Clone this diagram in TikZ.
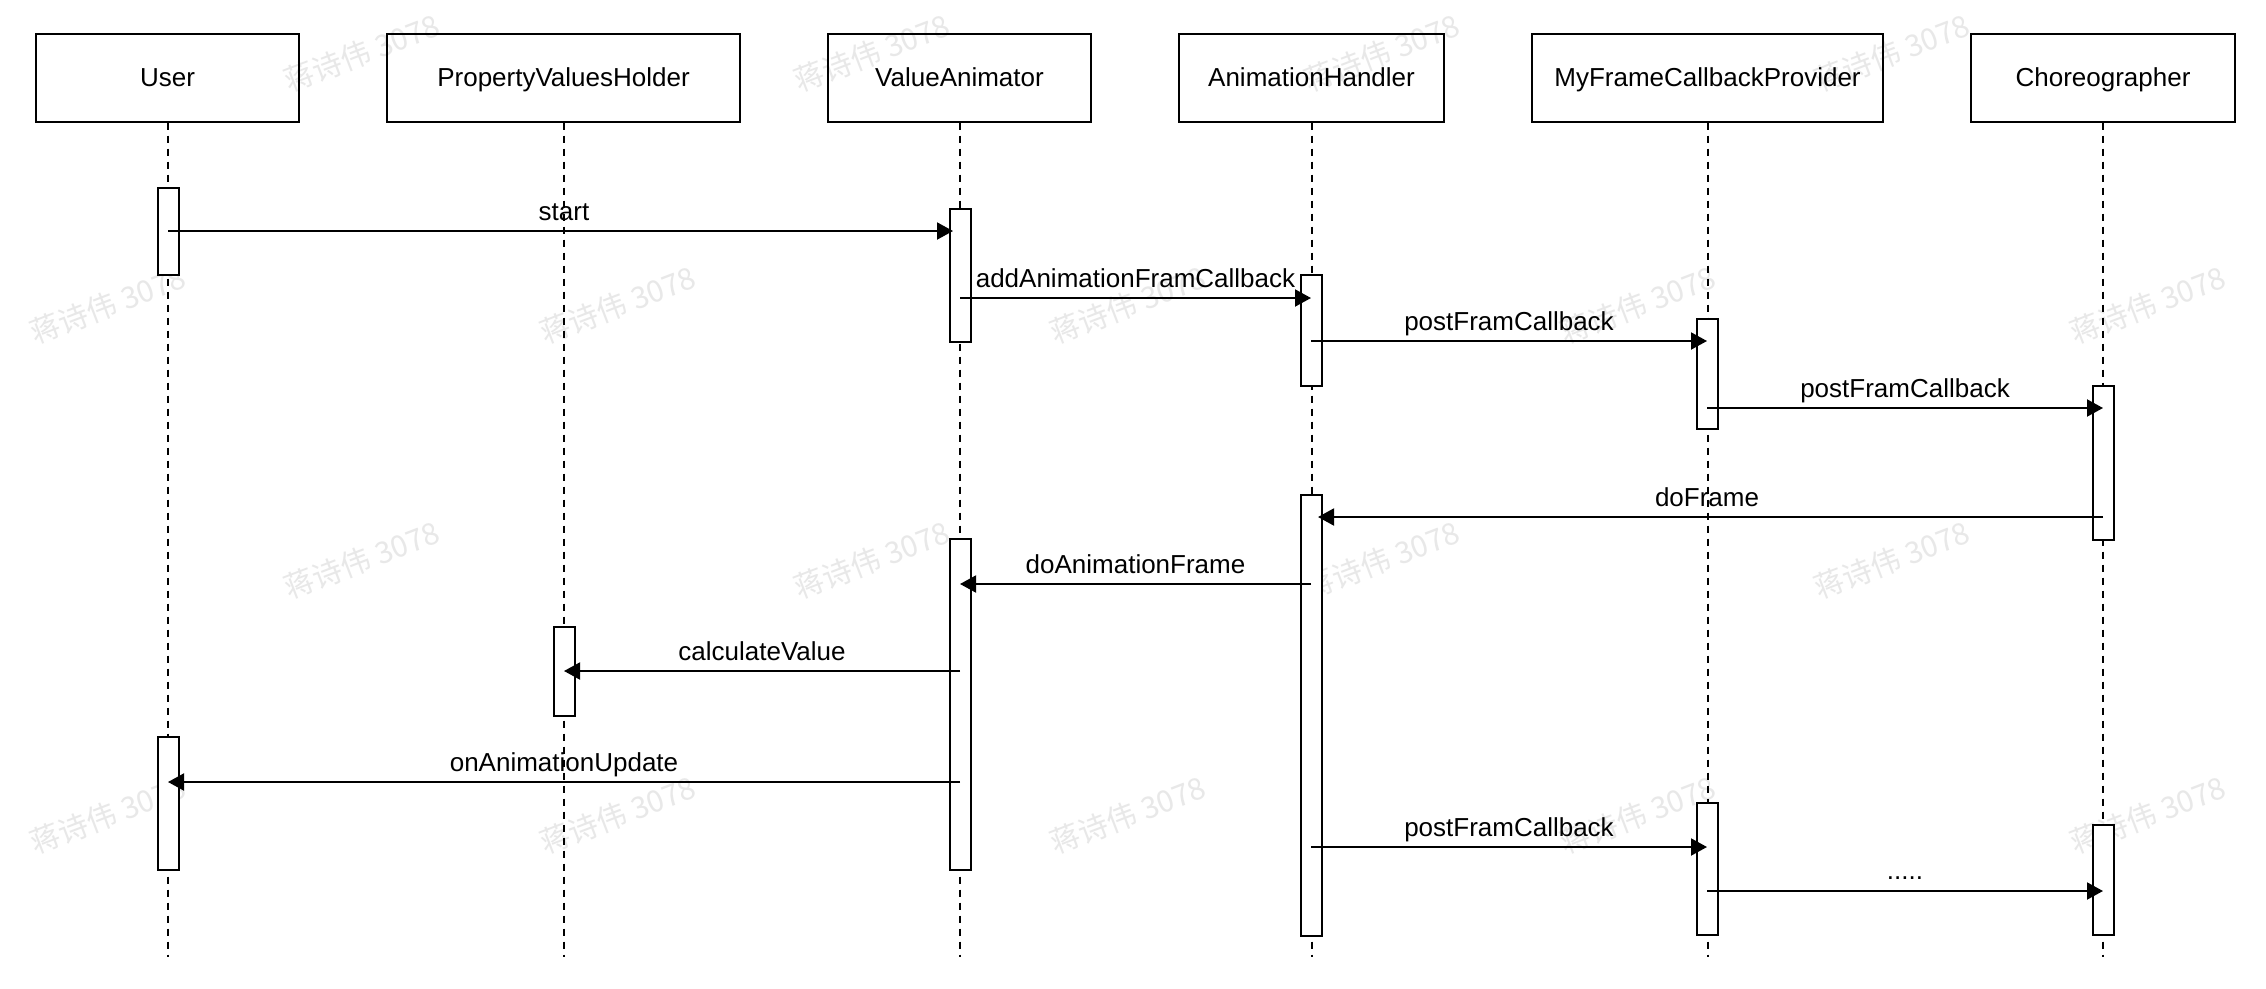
\documentclass[tikz,border=0pt]{standalone}
\usepackage{fontspec}
\setmainfont{Liberation Sans}
\newfontfamily\cjkwm{Noto Sans CJK SC}
\usetikzlibrary{arrows.meta,calc}
\begin{document}
\begin{tikzpicture}[x=1pt,y=-1pt,
  hdr/.style={draw, line width=2pt, minimum height=88pt, inner sep=0pt, text height=18.7pt, text depth=0pt, font=\fontsize{26}{31}\selectfont},
  actbar/.style={draw, fill=white, line width=2pt, minimum width=21pt, inner sep=0pt},
  life/.style={line width=2pt, dash pattern=on 7pt off 6pt},
  msg/.style={line width=2pt, -{Triangle[length=16pt,width=17pt]}},
  lbl/.style={anchor=base, inner sep=0pt, font=\fontsize{26}{31}\selectfont},
  wm/.style={rotate=21, text=black!9, font=\cjkwm\fontsize{30}{36}\selectfont, inner sep=0pt}
]
\fill[white] (0,0) rectangle (2266,988);
\useasboundingbox (0,0) rectangle (2266,988);

% watermarks
\foreach \i/\x/\y in {1/362/53,2/872/53,3/1382/53,4/1892/53,
  5/108/305,6/618/305,7/1128/305,8/1638/305,9/2148/305,
  10/362/560,11/872/560,12/1382/560,13/1892/560,
  14/108/815,15/618/815,16/1128/815,17/1638/815,18/2148/815}
  \node[wm] (w\i) at (\x,\y) {蒋诗伟 3078};

% headers
\node[hdr, minimum width=263pt] (hU) at (167.5,77.5) {User};
\node[hdr, minimum width=353pt] (hP) at (563.5,77.5) {PropertyValuesHolder};
\node[hdr, minimum width=263pt] (hV) at (959.5,77.5) {ValueAnimator};
\node[hdr, minimum width=265pt] (hA) at (1311.5,77.5) {AnimationHandler};
\node[hdr, minimum width=351pt] (hM) at (1707.5,77.5) {MyFrameCallbackProvider};
\node[hdr, minimum width=264pt] (hC) at (2103,77.5) {Choreographer};

\coordinate (bot) at (0,957);
\foreach \h in {hU,hP,hV,hA,hM,hC}
  \draw[life] (\h.south) -- (\h.south |- bot);

% activation bars
\node[actbar, minimum height=87pt]  (u1)  at (168,231.5) {};
\node[actbar, minimum height=133pt] (va1) at (960,275.5) {};
\node[actbar, minimum height=111pt] (ah1) at (1311,330.5) {};
\node[actbar, minimum height=110pt] (mf1) at (1707,374) {};
\node[actbar, minimum height=154pt] (ch1) at (2103,463) {};
\node[actbar, minimum height=441pt] (ah2) at (1311,715.5) {};
\node[actbar, minimum height=331pt] (va2) at (960,704.5) {};
\node[actbar, minimum height=89pt]  (pv1) at (564,671.5) {};
\node[actbar, minimum height=133pt] (u2)  at (168,803.5) {};
\node[actbar, minimum height=132pt] (mf2) at (1707,869) {};
\node[actbar, minimum height=110pt] (ch2) at (2103,880) {};

% message rows
\coordinate (m1) at (0,231);
\coordinate (m2) at (0,298);
\coordinate (m3) at (0,341);
\coordinate (m4) at (0,408);
\coordinate (m5) at (0,517);
\coordinate (m6) at (0,584);
\coordinate (m7) at (0,671);
\coordinate (m8) at (0,782);
\coordinate (m9) at (0,847);
\coordinate (m10) at (0,891);

\draw[msg] (u1.center |- m1) -- ($(va1.center |- m1)+(-7,0)$);
\draw[msg] (va1.center |- m2) -- (ah1.center |- m2);
\draw[msg] (ah1.center |- m3) -- (mf1.center |- m3);
\draw[msg] (mf1.center |- m4) -- (ch1.center |- m4);
\draw[msg] (ch1.center |- m5) -- ($(ah2.center |- m5)+(7,0)$);
\draw[msg] (ah2.center |- m6) -- (va2.center |- m6);
\draw[msg] (va2.center |- m7) -- (pv1.center |- m7);
\draw[msg] (va2.center |- m8) -- (u2.center |- m8);
\draw[msg] (ah2.center |- m9) -- (mf2.center |- m9);
\draw[msg] (mf2.center |- m10) -- (ch2.center |- m10);

% labels
\node[lbl] (l1)  at (564,220.5)  {start};
\node[lbl] (l2)  at (1135.5,287.5) {addAnimationFramCallback};
\node[lbl] (l3)  at (1509,330.5) {postFramCallback};
\node[lbl] (l4)  at (1905,397.5) {postFramCallback};
\node[lbl] (l5)  at (1707,506.5) {doFrame};
\node[lbl] (l6)  at (1135.5,573.5) {doAnimationFrame};
\node[lbl] (l7)  at (762,660.5) {calculateValue};
\node[lbl] (l8)  at (564,771.5) {onAnimationUpdate};
\node[lbl] (l9)  at (1509,836.5) {postFramCallback};
\node[lbl] (l10) at (1905,879.5) {.....};
\end{tikzpicture}
\end{document}
